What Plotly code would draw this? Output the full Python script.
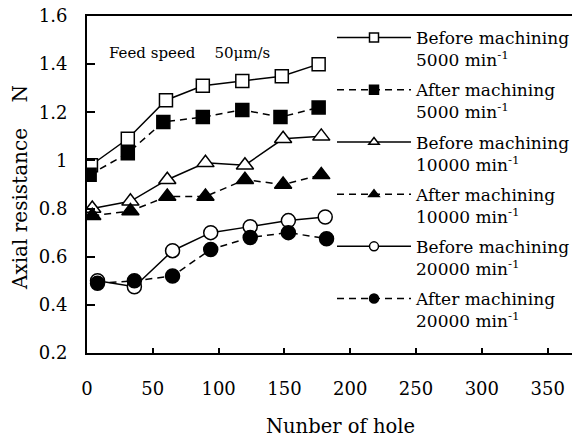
import plotly.graph_objects as go

# ---- data ----
x_b5 = [3, 31, 60, 88, 118, 148, 176]
y_b5 = [0.98, 1.09, 1.25, 1.31, 1.33, 1.35, 1.40]
x_a5 = [2, 31, 58, 88, 118, 147, 176]
y_a5 = [0.94, 1.03, 1.16, 1.18, 1.21, 1.18, 1.22]
x_b10 = [4, 33, 61, 90, 120, 149, 178]
y_b10 = [0.80, 0.83, 0.92, 0.99, 0.98, 1.09, 1.10]
x_a10 = [4, 33, 61, 90, 120, 149, 178]
y_a10 = [0.77, 0.79, 0.85, 0.85, 0.92, 0.90, 0.94]
x_b20 = [8, 36, 65, 94, 124, 153, 181]
y_b20 = [0.50, 0.475, 0.625, 0.70, 0.725, 0.75, 0.765]
x_a20 = [8, 36, 65, 94, 124, 153, 182]
y_a20 = [0.49, 0.50, 0.52, 0.63, 0.68, 0.70, 0.675]

names = [
    "Before machining<br>5000 min<sup>-1</sup>",
    "After machining<br>5000 min<sup>-1</sup>",
    "Before machining<br>10000 min<sup>-1</sup>",
    "After machining<br>10000 min<sup>-1</sup>",
    "Before machining<br>20000 min<sup>-1</sup>",
    "After machining<br>20000 min<sup>-1</sup>",
]
y_tickvals = [0.2, 0.4, 0.6, 0.8, 1.0, 1.2, 1.4, 1.6]
y_ticktext = ["0.2", "0.4", "0.6", "0.8", "1", "1.2", "1.4", "1.6"]
x_tickvals = [0, 50, 100, 150, 200, 250, 300, 350]
x_title = "Nunber of hole"
y_title = "Axial resistance    N"
note = "Feed speed    50μm/s"

FONT = "DejaVu Serif"
W, H = 572, 437
L, R, T, B = 87, 0, 16, 84

series = [
    (x_b5, y_b5, "square", "white", "solid", 13),
    (x_a5, y_a5, "square", "black", "7px,5px", 13),
    (x_b10, y_b10, "triangle-up", "white", "solid", 15),
    (x_a10, y_a10, "triangle-up", "black", "7px,5px", 15),
    (x_b20, y_b20, "circle", "white", "solid", 14),
    (x_a20, y_a20, "circle", "black", "7px,5px", 14),
]

fig = go.Figure()
for (xs, ys, sym, fill, dash, sz), nm in zip(series, names):
    fig.add_trace(go.Scatter(
        x=xs, y=ys, mode="lines+markers", showlegend=False,
        line=dict(color="black", width=1.5, dash=dash),
        marker=dict(symbol=sym, size=sz, color=fill,
                    line=dict(color="black", width=1.5)),
    ))
# legend-only entries with smaller markers
for i, ((xs, ys, sym, fill, dash, sz), nm) in enumerate(zip(series, names)):
    fig.add_trace(go.Scatter(
        x=[None], y=[None], mode="lines+markers", name=nm,
        legendgroup=f"g{i}",
        line=dict(color="black", width=1.5, dash=dash),
        marker=dict(symbol=sym, size=9, color=fill,
                    line=dict(color="black", width=1.5)),
    ))

pw = W - L - R
ph = H - T - B


def px(xp):
    return (xp - L) / pw


def py(yp):
    return (H - B - yp) / ph


fig.add_annotation(
    text=note, xref="paper", yref="paper",
    x=px(107), y=py(53), xanchor="left", yanchor="middle",
    showarrow=False, font=dict(family=FONT, size=15, color="black"),
)
fig.add_annotation(
    text=x_title, xref="paper", yref="paper",
    x=px(340), y=py(426), xanchor="center", yanchor="middle",
    showarrow=False, font=dict(family=FONT, size=19.5, color="black"),
)
fig.add_annotation(
    text=y_title, xref="paper", yref="paper", textangle=-90,
    x=px(20), y=py(188), xanchor="center", yanchor="middle",
    showarrow=False, font=dict(family=FONT, size=20, color="black"),
)

fig.update_layout(
    width=W, height=H,
    margin=dict(l=L, r=R, t=T, b=B, autoexpand=False),
    paper_bgcolor="white", plot_bgcolor="white",
    font=dict(family=FONT, size=17, color="black"),
    legend=dict(
        x=px(332), y=py(20), xanchor="left", yanchor="top",
        bgcolor="rgba(0,0,0,0)", font=dict(family=FONT, size=17),
        itemwidth=74, valign="top", tracegroupgap=5,
    ),
    xaxis=dict(
        range=[0, 368.5], tickvals=x_tickvals, showgrid=False, zeroline=False,
        showline=True, linecolor="black", linewidth=2, mirror=True,
        ticks="inside", ticklen=5, tickwidth=2, tickcolor="black",
        tickfont=dict(family=FONT, size=18), ticklabelstandoff=18,
        automargin=False,
    ),
    yaxis=dict(
        range=[0.2, 1.6], tickvals=y_tickvals, ticktext=y_ticktext,
        showgrid=False, zeroline=False,
        showline=True, linecolor="black", linewidth=2,
        ticks="inside", ticklen=8, tickwidth=2, tickcolor="black",
        tickfont=dict(family=FONT, size=18), ticklabelstandoff=14,
        automargin=False,
    ),
)

fig.write_html(
    "out.html",
    config={"displayModeBar": False},
    post_script="document.body.style.margin='0';document.body.style.padding='0';",
)
